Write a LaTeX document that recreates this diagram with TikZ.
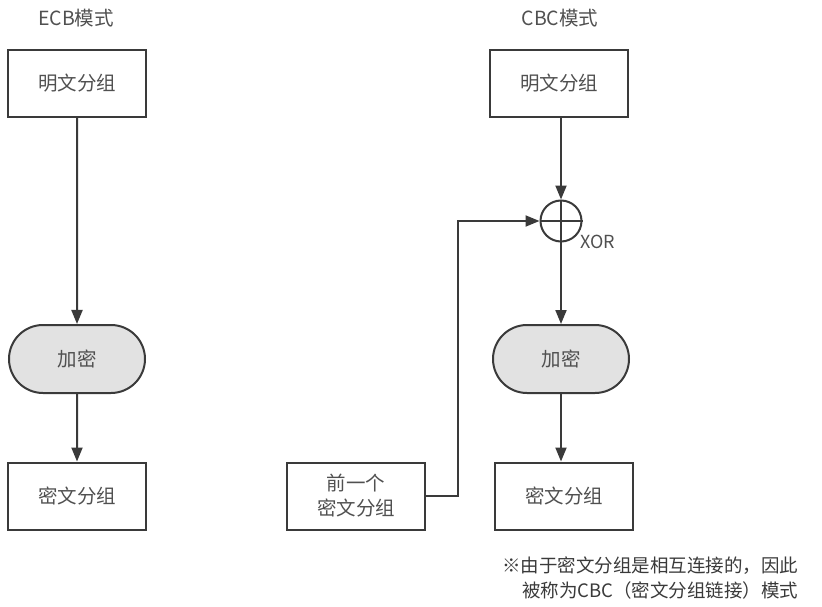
\documentclass[tikz,border=0pt]{standalone}
\usepackage{fontspec}
\setmainfont{Noto Sans CJK SC}
\usetikzlibrary{arrows.meta,shapes.misc}
\definecolor{ink}{HTML}{3A3A3A}
\definecolor{txt}{HTML}{505050}
\definecolor{pill}{HTML}{E2E2E2}
\tikzset{
  every node/.style={text=txt, font=\fontsize{19.5}{25}\selectfont},
  boxnode/.style={draw=ink, line width=2pt, minimum width=138pt, minimum height=67pt, inner sep=0pt, align=center},
  pillnode/.style={draw=ink, line width=2pt, fill=pill, rounded rectangle, minimum width=136pt, minimum height=68pt, inner sep=0pt},
  conn/.style={draw=ink, line width=2pt, -{Triangle[length=14pt,width=11pt]}},
  plainconn/.style={draw=ink, line width=2pt},
}
\begin{document}
\begin{tikzpicture}[x=1pt,y=-1pt]
\useasboundingbox (0,0) rectangle (822,607);
% ECB
\node (ecbt) at (76,18) {ECB模式};
\node[boxnode] (p1) at (77,83.5) {明文分组};
\node[pillnode] (e1) at (77,359) {加密};
\node[boxnode] (c1) at (77,496) {密文分组};
\draw[conn] (p1) -- (e1);
\draw[conn] (e1) -- (c1);
% CBC
\node (cbct) at (560,18) {CBC模式};
\node[boxnode] (p2) at (559,83.5) {明文分组};
\node[draw=ink, line width=2pt, circle, minimum size=41pt, inner sep=0pt] (x) at (561,221) {};
\draw[plainconn] (x.north) -- (x.south);
\draw[plainconn] (x.west) -- (x.east);
\node[font=\fontsize{18}{22}\selectfont, anchor=west] (xl) at (577,242) {XOR};
\node[pillnode] (e2) at (561,359) {加密};
\node[boxnode] (c2) at (564,496) {密文分组};
\node[boxnode] (pc) at (356,496) {前一个\\密文分组};
\coordinate (k1) at (458,496);
\coordinate (k2) at (458,221);
\draw[conn] (p2.south -| x) -- (x.north);
\draw[conn] (x.south) -- (e2.north);
\draw[conn] (e2.south) -- (e2.south |- c2.north);
\draw[conn] (pc.east) -- (k1) -- (k2) -- (x.west);
% note
\node[anchor=east, align=right, text=ink, font=\fontsize{18.5}{25}\selectfont] (note) at (802,578) {※由于密文分组是相互连接的，因此\\被称为CBC（密文分组链接）模式};
\end{tikzpicture}
\end{document}
